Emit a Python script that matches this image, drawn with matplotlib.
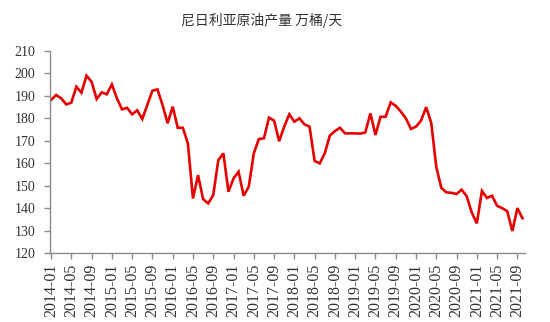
import matplotlib
matplotlib.use("Agg")
import matplotlib.pyplot as plt

# Monthly data 2014-01 .. 2021-10
start_year, start_month = 2014, 1
values = [
    188.2, 190.4, 188.9, 186.2, 187.0, 194.1, 191.4, 199.0, 196.3, 188.6,
    191.6, 190.7, 195.1, 188.9, 184.0, 184.7, 181.8, 183.6, 179.7, 186.0,
    192.3, 192.9, 185.9, 177.8, 185.2, 175.8, 175.8, 168.8, 144.3, 154.7,
    144.0, 142.1, 145.8, 161.4, 164.4, 147.3, 153.2, 156.2, 145.5, 149.5,
    164.4, 170.8, 171.1, 180.3, 179.0, 169.8, 176.3, 181.8, 178.5, 180.0,
    177.3, 176.3, 161.0, 159.9, 164.4, 172.3, 174.3, 175.8, 173.3, 173.3,
    173.3, 173.2, 173.7, 182.2, 172.6, 180.7, 180.7, 187.1, 185.6, 183.0,
    180.0, 175.3, 176.3, 179.0, 185.0, 178.0, 158.3, 149.0, 147.0, 146.8,
    146.3, 148.2, 145.3, 138.0, 133.2, 147.6, 144.5, 145.5, 141.0, 140.0,
    138.6, 129.8, 140.0, 135.5,
]
title = "尼日利亚原油产量 万桶/天"
y_ticks = list(range(120, 211, 10))

n = len(values)
labels = []
for i in range(n):
    m = start_month - 1 + i
    labels.append(f"{start_year + m // 12}-{m % 12 + 1:02d}")
tick_idx = list(range(0, n, 4))

fig = plt.figure(figsize=(5.5, 3.22), dpi=100)
ax = fig.add_axes([49.5 / 550, 1 - 253 / 322, 475.5 / 550, 202 / 322])
x = list(range(n))
ax.plot(x, values, color="#E60000", linewidth=1.9, solid_joinstyle="miter")

ax.set_xlim(-0.3, 93.5)
ax.set_ylim(120, 210)
ax.set_yticks(y_ticks)
ax.set_xticks(tick_idx)
ax.set_xticklabels([labels[i] for i in tick_idx], rotation=90,
                   family="Liberation Serif", fontsize=11.5, color="#333333")
for t in ax.get_yticklabels():
    t.set_family("Liberation Serif")
    t.set_fontsize(10)
    t.set_color("#333333")

for s in ["top", "right"]:
    ax.spines[s].set_visible(False)
for s in ["left", "bottom"]:
    ax.spines[s].set_color("#8c8c8c")
    ax.spines[s].set_linewidth(1.0)
ax.tick_params(axis="both", direction="out", length=4, width=1.0, color="#8c8c8c")
ax.tick_params(axis="y", pad=6)
ax.tick_params(axis="x", pad=4)

fig.text(262 / 550, 1 - 20 / 322, title, ha="center", va="center",
         family=["Noto Sans CJK SC", "DejaVu Sans"], fontsize=10, color="#333333")

fig.savefig("out.png", dpi=100, facecolor="white")
